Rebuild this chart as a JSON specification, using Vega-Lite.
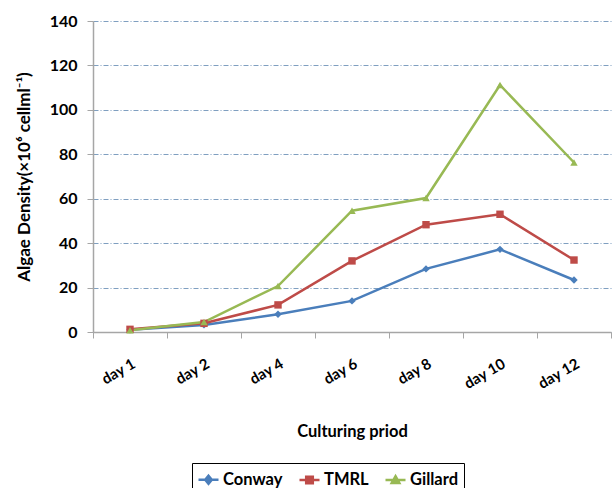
{
  "$schema": "https://vega.github.io/schema/vega-lite/v6.json",
  "width": 518,
  "height": 311,
  "autosize": "none",
  "padding": {"left": 93, "top": 21, "right": 5, "bottom": 156},
  "background": "white",
  "config": {"font": "Lato", "view": {"stroke": null}},
  "data": {
    "values": [
      {"day": "day 1", "series": "Conway", "density": 1.0},
      {"day": "day 2", "series": "Conway", "density": 3.2},
      {"day": "day 4", "series": "Conway", "density": 8.0},
      {"day": "day 6", "series": "Conway", "density": 14.0},
      {"day": "day 8", "series": "Conway", "density": 28.4},
      {"day": "day 10", "series": "Conway", "density": 37.2},
      {"day": "day 12", "series": "Conway", "density": 23.4},
      {"day": "day 1", "series": "TMRL", "density": 1.2},
      {"day": "day 2", "series": "TMRL", "density": 3.9},
      {"day": "day 4", "series": "TMRL", "density": 12.2},
      {"day": "day 6", "series": "TMRL", "density": 32.0},
      {"day": "day 8", "series": "TMRL", "density": 48.3},
      {"day": "day 10", "series": "TMRL", "density": 53.0},
      {"day": "day 12", "series": "TMRL", "density": 32.4},
      {"day": "day 1", "series": "Gillard", "density": 0.8},
      {"day": "day 2", "series": "Gillard", "density": 4.5},
      {"day": "day 4", "series": "Gillard", "density": 20.7},
      {"day": "day 6", "series": "Gillard", "density": 54.6},
      {"day": "day 8", "series": "Gillard", "density": 60.3},
      {"day": "day 10", "series": "Gillard", "density": 111.2},
      {"day": "day 12", "series": "Gillard", "density": 76.3}
    ]
  },
  "encoding": {
    "x": {
      "field": "day",
      "type": "ordinal",
      "sort": ["day 1", "day 2", "day 4", "day 6", "day 8", "day 10", "day 12"],
      "bandPosition": 0.5,
      "scale": {"type": "band", "paddingInner": 0, "paddingOuter": 0},
      "axis": {
        "title": "Culturing priod",
        "titleFont": "Lato",
        "titleFontSize": 16.5,
        "titleFontWeight": "bold",
        "titleColor": "#000",
        "titlePadding": 32,
        "labelAngle": -30,
        "labelAlign": "right",
        "labelBaseline": "top",
        "labelFont": "Lato",
        "labelFontSize": 15,
        "labelFontWeight": "bold",
        "labelColor": "#000",
        "labelPadding": 18,
        "tickBand": "extent",
        "tickSize": 6,
        "tickColor": "#a6a6a6",
        "domainColor": "#a6a6a6",
        "domainWidth": 1.5,
        "grid": false
      }
    },
    "y": {
      "field": "density",
      "type": "quantitative",
      "scale": {"domain": [0, 140], "nice": false},
      "axis": {
        "title": "Algae Density(×10⁶ cellml⁻¹)",
        "titleFont": "Lato",
        "titleFontSize": 17,
        "titleFontWeight": "bold",
        "titleColor": "#000",
        "titlePadding": 16,
        "values": [0, 20, 40, 60, 80, 100, 120, 140],
        "labelFont": "Lato",
        "labelFontSize": 16,
        "labelFontWeight": "bold",
        "labelColor": "#000",
        "labelPadding": 10,
        "tickSize": 6,
        "tickColor": "#a6a6a6",
        "domainColor": "#a6a6a6",
        "domainWidth": 1.5,
        "grid": true,
        "gridColor": "#7f9fc0",
        "gridDash": [5, 2, 1, 2],
        "gridWidth": 1
      }
    }
  },
  "resolve": {"legend": {"color": "independent"}},
  "layer": [
    {
      "mark": {"type": "line", "strokeWidth": 2.5},
      "encoding": {
        "color": {
          "field": "series",
          "type": "nominal",
          "scale": {
            "domain": ["Conway", "TMRL", "Gillard"],
            "range": ["#4a7ebb", "#be4b48", "#98b954"]
          },
          "legend": {
            "orient": "none",
            "legendX": 99,
            "legendY": 442,
            "direction": "horizontal",
            "title": null,
            "strokeColor": "#000",
            "padding": 5,
            "labelFont": "Lato",
            "labelFontWeight": "bold",
            "labelFontSize": 16.5,
            "labelColor": "#000",
            "labelOffset": 3,
            "symbolSize": 400,
            "columnPadding": 11,
            "symbolStrokeWidth": 2.5,
            "encode": {
              "symbols": {
                "update": {
                  "shape": {"signal": "datum.value === 'Conway' ? 'M-1,0H1M0,-0.4L0.33,0L0,0.4L-0.33,0Z' : datum.value === 'TMRL' ? 'M-1,0H1M-0.33,-0.33H0.33V0.33H-0.33Z' : 'M-1,0H1M0,-0.38L0.38,0.3H-0.38Z'"},
                  "fill": {"scale": "color", "field": "value"},
                  "stroke": {"scale": "color", "field": "value"},
                  "opacity": {"value": 1}
                }
              }
            }
          }
        }
      }
    },
    {
      "mark": {"type": "point", "filled": true, "opacity": 1, "size": 55},
      "encoding": {
        "color": {"field": "series", "type": "nominal", "legend": null},
        "shape": {
          "field": "series",
          "type": "nominal",
          "scale": {"domain": ["Conway", "TMRL", "Gillard"], "range": ["diamond", "square", "triangle-up"]},
          "legend": null
        }
      }
    }
  ]
}
